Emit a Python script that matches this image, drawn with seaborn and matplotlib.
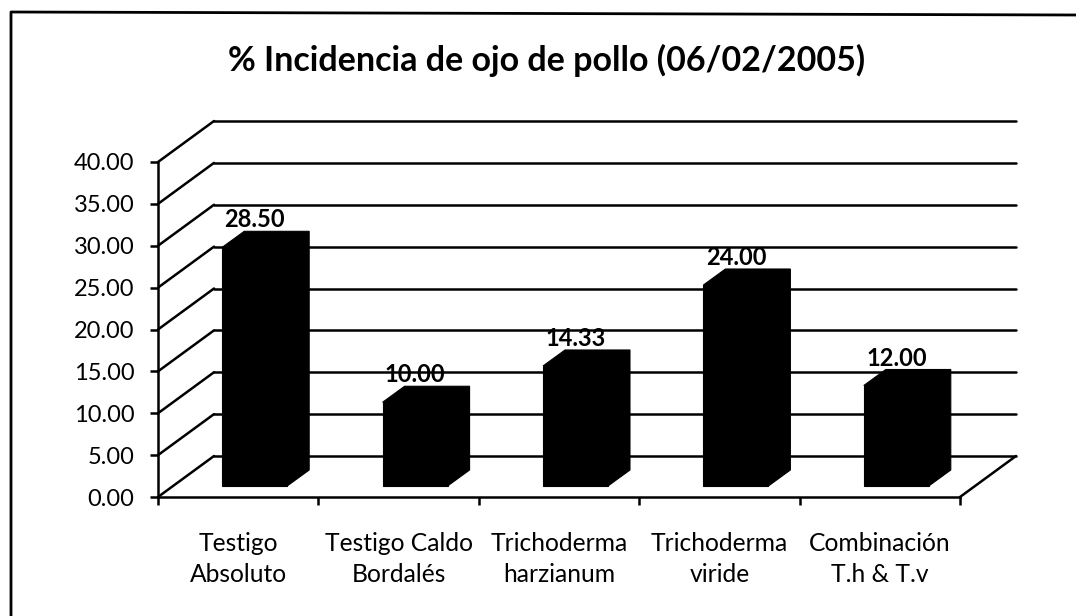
import matplotlib
matplotlib.use("Agg")
import matplotlib.pyplot as plt
import matplotlib.transforms as mtrans
from matplotlib.lines import Line2D
from matplotlib.patches import Polygon
import seaborn as sns
import pandas as pd

title = "% Incidencia de ojo de pollo (06/02/2005)"
categories = ["Testigo\nAbsoluto", "Testigo Caldo\nBordalés", "Trichoderma\nharzianum",
              "Trichoderma\nviride", "Combinación\nT.h & T.v"]
values = [28.50, 10.00, 14.33, 24.00, 12.00]
y_ticks = [0, 5, 10, 15, 20, 25, 30, 35, 40]

W, H = 1076, 616
sns.set_theme(style="white")
plt.rcParams["font.family"] = ["Lato", "DejaVu Sans"]
fig = plt.figure(figsize=(W / 100, H / 100), dpi=100, facecolor="white")
L, R, T, B = 158, 960, 162, 497
ax = fig.add_axes([L / W, 1 - B / H, (R - L) / W, (B - T) / H])

df = pd.DataFrame({"cat": categories, "val": values})
sns.barplot(data=df, x="cat", y="val", color="black", width=0.405, saturation=1, ax=ax, zorder=5)
ax.set_ylim(0, 40)
ax.set_xlim(-0.5, 4.5)
ax.patch.set_alpha(0)
ax.set_xlabel("")
ax.set_ylabel("")

def px(dx, dy):
    return mtrans.ScaledTranslation(dx / 100, dy / 100, fig.dpi_scale_trans)

# 3D wall and floor lines
WX, WY = 56, 41
LW = 1.8
for v in y_ticks:
    p0 = ax.transData.transform((-0.5, v))
    ax.add_line(Line2D([-0.5, 4.5], [v, v], transform=ax.transData + px(WX, WY), color="black", lw=LW,
                       clip_on=False, zorder=1))
    seg = Line2D([p0[0], p0[0] + WX], [p0[1], p0[1] + WY], transform=mtrans.IdentityTransform(),
                 color="black", lw=LW, clip_on=False, zorder=1)
    ax.add_line(seg)
p1 = ax.transData.transform((4.5, 0))
ax.add_line(Line2D([p1[0], p1[0] + WX], [p1[1], p1[1] + WY], transform=mtrans.IdentityTransform(),
                   color="black", lw=LW, clip_on=False, zorder=1))

# Bars: shift front faces into the floor, add top and side faces
OX, OY, DX, DY = 16.5, 11, 22, 16
for bar, v in zip(ax.patches, values):
    bar.set_transform(ax.transData + px(OX, OY))
    bar.set_clip_on(False)
    bar.set_edgecolor("black")
    bar.set_linewidth(0.8)
    (x0, y0), (x1, y1) = ax.transData.transform([(bar.get_x(), 0), (bar.get_x() + bar.get_width(), v)])
    x0 += OX; x1 += OX; y0 += OY; y1 += OY
    pts = [(x0, y1), (x0 + DX, y1 + DY), (x1 + DX, y1 + DY), (x1 + DX, y0 + DY), (x1, y0), (x1, y1)]
    fig.add_artist(Polygon(pts, closed=True, transform=mtrans.IdentityTransform(), fc="black", ec="black",
                           lw=0.8, zorder=6))
    ax.annotate(f"{v:.2f}", xy=(bar.get_x() + bar.get_width() / 2, v), xycoords="data",
                xytext=(OX * 0.72, (OY + DY) * 0.72), textcoords="offset points", ha="center", va="bottom",
                fontsize=17, fontweight="bold", color="black", zorder=8)

for s in ("top", "right"):
    ax.spines[s].set_visible(False)
for s in ("left", "bottom"):
    ax.spines[s].set_color("black")
    ax.spines[s].set_linewidth(LW)
    ax.spines[s].set_zorder(2)
ax.set_yticks(y_ticks, [f"{v:.2f}" for v in y_ticks])
ax.set_xticks([-0.5, 0.5, 1.5, 2.5, 3.5, 4.5], minor=True)
ax.tick_params(axis="x", which="major", length=0, labelsize=17.7, pad=25, colors="black", labelcolor="black")
ax.tick_params(axis="x", which="minor", length=6, width=LW, color="black", bottom=True)
ax.tick_params(axis="y", length=6, width=LW, labelsize=17, pad=11, color="black", left=True, labelcolor="black")
for t in ax.get_xticklabels():
    t.set_linespacing(1.45)

fig.text(547 / W, 1 - 60 / H, title, ha="center", va="center", fontsize=24.5, fontweight="bold", color="black")
# Scanned frame: only the top and left edges are in the picture
fig.add_artist(Line2D([11 / W, 11 / W, 1], [0, 1 - 12 / H, 1 - 15 / H], transform=fig.transFigure,
                      color="black", lw=2.0))
fig.savefig("out.png", dpi=100)
